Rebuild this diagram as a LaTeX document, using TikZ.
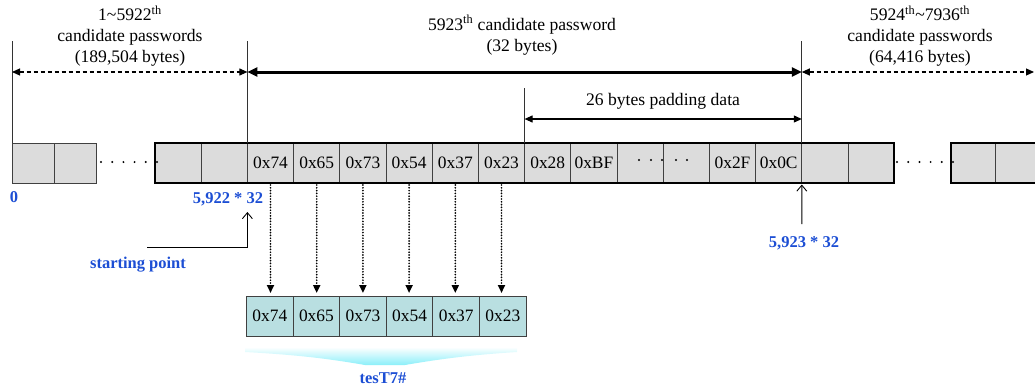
\documentclass[tikz,border=0pt]{standalone}
\usepackage{fontspec}
\setmainfont{Liberation Serif}
\usetikzlibrary{arrows.meta}
\definecolor{cellgray}{RGB}{220,220,220}
\definecolor{cellteal}{RGB}{185,223,225}
\definecolor{labelblue}{RGB}{28,78,212}
\definecolor{glowcyan}{RGB}{110,235,248}
\begin{document}
\begin{tikzpicture}[x=1pt,y=-1pt,
  every node/.style={inner sep=0pt, outer sep=0pt},
  txt/.style={font=\fontsize{17.6}{21}\selectfont, align=center},
  cell/.style={draw=black!75, line width=0.9pt, fill=cellgray,
    minimum width=46.2pt, minimum height=40pt, anchor=west,
    font=\fontsize{17.4}{20}\selectfont},
  bcell/.style={cell, fill=cellteal, minimum width=46.6pt},
  frame/.style={line width=2.5pt, line join=miter},
  guide/.style={line width=0.8pt, draw=black!80},
  dasharr/.style={line width=1.1pt, dash pattern=on 4pt off 3pt,
    {Triangle[length=8pt,width=7pt]}-{Triangle[length=8pt,width=7pt]}},
  thickarr/.style={line width=3pt,
    {Triangle[length=10pt,width=9pt]}-{Triangle[length=10pt,width=9pt]}},
  padarr/.style={line width=1.1pt,
    {Triangle[length=8pt,width=7pt]}-{Triangle[length=8pt,width=7pt]}},
  dotarr/.style={line width=1.9pt, line cap=round, dash pattern=on 0pt off 2.8pt,
    -{Triangle[length=8pt,width=7pt]}, shorten <=2pt, shorten >=3pt},
  openarr/.style={line width=0.9pt, -{Straight Barb[length=6pt,width=10pt]}},
  lbl/.style={text=labelblue, font=\fontsize{16.5}{20}\selectfont\bfseries},
  dot/.style={fill=black}
]
\useasboundingbox (0,0) rectangle (1035,391);
\clip (0,0) rectangle (1035,391);

% helper rows
\coordinate (vtop) at (0,41);
\coordinate (arr) at (0,72);
\coordinate (padtop) at (0,88);
\coordinate (pad) at (0,119);

% headings
\node[txt] (h1) at (130,36) {1\textasciitilde5922\textsuperscript{th}\\candidate passwords\\(189,504 bytes)};
\node[txt] (h2) at (522,35) {5923\textsuperscript{th} candidate password\\(32 bytes)};
\node[txt] (h3) at (920,36) {5924\textsuperscript{th}\textasciitilde7936\textsuperscript{th}\\candidate passwords\\(64,416 bytes)};
\node[txt] (h4) at (663,101) {26 bytes padding data};

% leftmost block
\node[cell, minimum width=42pt] (l0) at (12,163) {};
\node[cell, minimum width=42pt] (l1) at (l0.east) {};

% main block: 32-byte records
\foreach \t [count=\i from 0] in {{},{},0x74,0x65,0x73,0x54,0x37,0x23,0x28,0xBF,{},{},0x2F,0x0C,{},{}}
  \node[cell] (m\i) at (155+46.2*\i,163) {\t};
\draw[frame] (m0.north west) rectangle (m15.south east);

% rightmost block
\node[cell, minimum width=44pt] (r0) at (951,163) {};
\node[cell, minimum width=44pt] (r1) at (r0.east) {};
\draw[frame] (r1.north east) -- (r0.north west) -- (r0.south west) -- (r1.south east);

% elided cells
\foreach \x in {101,112.2,123.4,134.6,145.8,157} \fill[dot] (\x,162) circle (1.1pt);
\foreach \x in {897,908.2,919.4,930.6,941.8,953} \fill[dot] (\x,162) circle (1.1pt);
\foreach \x in {639,651,662,676,687} \fill[dot] (\x,160) circle (1.1pt);

% extent markers
\draw[guide] (l0.north west) -- (l0.north west |- vtop);
\draw[guide] (m2.north west) -- (m2.north west |- vtop);
\draw[guide] (m14.north west) -- (m14.north west |- vtop);
\draw[guide] (m8.north west) -- (m8.north west |- padtop);
\coordinate (rend) at (1034,72);
\draw[dasharr] (l0.north west |- arr) -- (m2.north west |- arr);
\draw[thickarr] (m2.north west |- arr) -- (m14.north west |- arr);
\draw[dasharr] (m14.north west |- arr) -- (rend);
\draw[padarr] (m8.north west |- pad) -- (m14.north west |- pad);

% offsets
\node[lbl] (z0) at (14,197) {0};
\node[lbl] (s1) at (228,199) {5,922 * 32};
\node[lbl] (sp) at (138,265) {starting point};
\coordinate (spa) at (147,247);
\coordinate (spt) at (247.4,212);
\draw[openarr] (spa) -| (spt);
\node[lbl] (s2) at (804,243) {5,923 * 32};
\coordinate (e2) at (801.8,224);
\draw[openarr, shorten >=1.5pt] (e2) -- (m14.south west);

% extracted password bytes
\foreach \t [count=\i from 0] in {0x74,0x65,0x73,0x54,0x37,0x23}
  \node[bcell] (b\i) at (246.5+46.6*\i,316) {\t};
\foreach \i in {0,...,5} {
  \pgfmathtruncatemacro\k{\i+2}
  \draw[dotarr] (m\k.south) -- (m\k.south |- b\i.north);
}

% glow under the bytes
\shade[top color=white, bottom color=glowcyan, opacity=0.8]
  (245,347) -- (517,347) -- (517,352)
  .. controls (470,355) and (440,359) .. (405,365) -- (365,365)
  .. controls (330,359) and (300,355) .. (245,352) -- cycle;
\node[lbl] (word) at (383,378) {tesT7\#};
\end{tikzpicture}
\end{document}
